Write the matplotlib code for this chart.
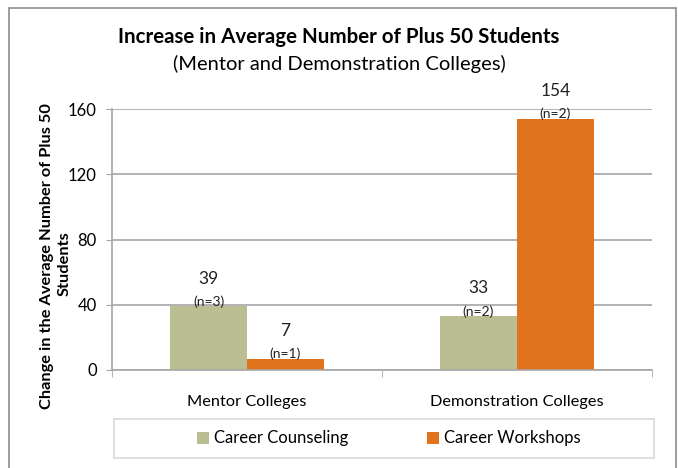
import numpy as np
import matplotlib.pyplot as plt
from matplotlib.patches import Rectangle

# data
categories = ['Mentor Colleges', 'Demonstration Colleges']
series = ['Career Counseling', 'Career Workshops']
counseling = [39, 33]
workshops = [7, 154]
counseling_n = ['(n=3)', '(n=2)']
workshops_n = ['(n=1)', '(n=2)']
yticks = [0, 40, 80, 120, 160]

colors = ['#BBBE92', '#E1731D']
grid_color = '#A6A6A6'

plt.rcParams['font.family'] = ['Lato', 'DejaVu Sans']

W, H = 678, 468
fig = plt.figure(figsize=(W / 100, H / 100), dpi=100)
ax = fig.add_axes([112 / W, 1 - 370 / H, (652 - 112) / W, (370 - 109) / H])

x = np.arange(len(categories))
bw = 0.285
b1 = ax.bar(x - bw / 2, counseling, bw, color=colors[0], label=series[0])
b2 = ax.bar(x + bw / 2, workshops, bw, color=colors[1], label=series[1])

# value labels: number on top, n below it
for bars, vals, ns in [(b1, counseling, counseling_n), (b2, workshops, workshops_n)]:
    for rect, v, n in zip(bars, vals, ns):
        cx = rect.get_x() + rect.get_width() / 2
        ax.annotate(str(v), (cx, v), xytext=(0, 20), textcoords='offset points',
                    ha='center', va='center', fontsize=12.5, color='#222222')
        ax.annotate(n, (cx, v), xytext=(0, 3.5), textcoords='offset points',
                    ha='center', va='center', fontsize=10, color='#222222')

ax.set_xlim(-0.5, 1.5)
ax.set_ylim(0, 160)
ax.set_yticks(yticks)
ax.yaxis.grid(True, color=grid_color, linewidth=1.2)
ax.set_axisbelow(True)
ax.set_xticks(x)
ax.set_xticklabels(categories, fontsize=11.8)
ax.set_xticks([-0.5, 0.5, 1.5], minor=True)
ax.tick_params(axis='x', which='major', length=0, pad=18)
ax.tick_params(axis='x', which='minor', length=5, color=grid_color, direction='out')
ax.tick_params(axis='y', length=4, color=grid_color, labelsize=12, pad=7)
for s in ['top', 'right']:
    ax.spines[s].set_visible(False)
for s in ['left', 'bottom']:
    ax.spines[s].set_color(grid_color)
    ax.spines[s].set_linewidth(1.2)

# y axis title, two lines
fig.text(47 / W, 1 - 256 / H, 'Change in the Average Number of Plus 50',
         rotation=90, ha='center', va='center', fontsize=11.8, fontweight='bold')
fig.text(65 / W, 1 - 264 / H, 'Students',
         rotation=90, ha='center', va='center', fontsize=11.8, fontweight='bold')

fig.text(0.5, 1 - 37 / H, 'Increase in Average Number of Plus 50 Students',
         ha='center', va='center', fontsize=14.8, fontweight='bold')
fig.text(0.5, 1 - 64 / H, '(Mentor and Demonstration Colleges)',
         ha='center', va='center', fontsize=14.5)

# outer chart frame
fig.patches.append(Rectangle((9 / W, -0.01), (676 - 9) / W, 1 - 8 / H + 0.01,
                             transform=fig.transFigure, fill=False,
                             edgecolor='#8C8C8C', linewidth=1.2))
# legend frame
fig.patches.append(Rectangle((114 / W, 1 - 458 / H), (654 - 114) / W, 39 / H,
                             transform=fig.transFigure, fill=False,
                             edgecolor='#D9D9D9', linewidth=1.2))
fig.legend(handles=[b1, b2], labels=series, loc='center',
           bbox_to_anchor=(389 / W, 1 - 438.5 / H), ncol=2,
           frameon=False, fontsize=12, handlelength=0.75, handleheight=0.75,
           handletextpad=0.3, columnspacing=4.7)

fig.savefig('out.png', dpi=100)
